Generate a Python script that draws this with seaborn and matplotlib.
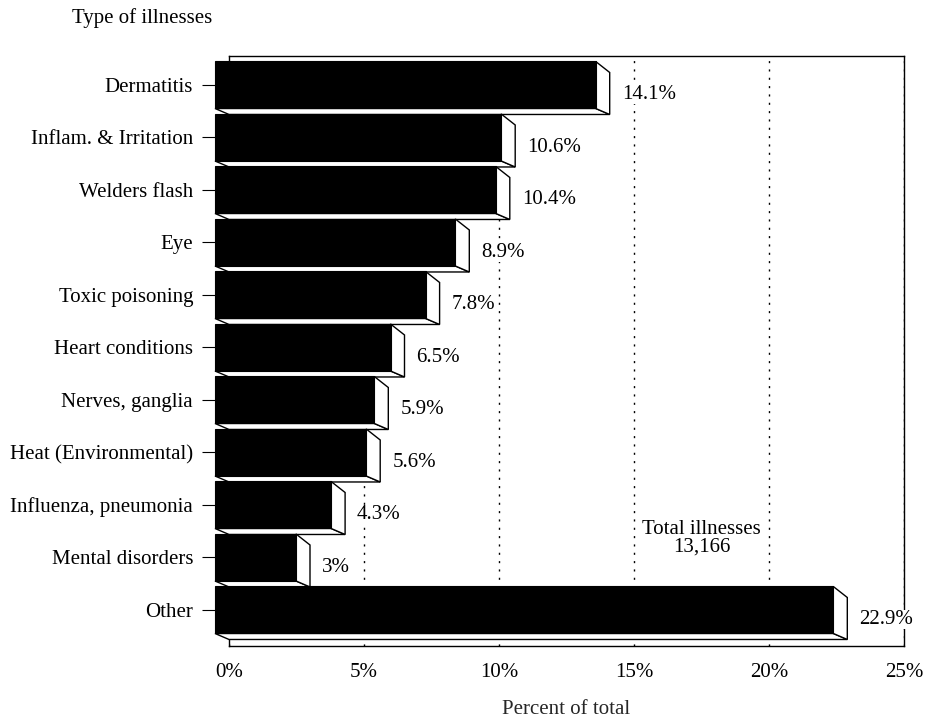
import matplotlib
matplotlib.use("Agg")
import matplotlib.pyplot as plt
import seaborn as sns
import pandas as pd
from matplotlib.patches import Polygon
from matplotlib.transforms import ScaledTranslation

# ---- data ----
categories = ["Dermatitis", "Inflam. & Irritation", "Welders flash", "Eye",
              "Toxic poisoning", "Heart conditions", "Nerves, ganglia",
              "Heat (Environmental)", "Influenza, pneumonia",
              "Mental disorders", "Other"]
values = [14.1, 10.6, 10.4, 8.9, 7.8, 6.5, 5.9, 5.6, 4.3, 3.0, 22.9]
value_labels = ["14.1%", "10.6%", "10.4%", "8.9%", "7.8%", "6.5%", "5.9%",
                "5.6%", "4.3%", "3%", "22.9%"]
xticks = [0, 5, 10, 15, 20, 25]
xtick_labels = ["0%", "5%", "10%", "15%", "20%", "25%"]
note_text = "Total illnesses\n13,166"
ylabel_text = "Type of illnesses"
xlabel_text = "Percent of total"

# ---- style ----
sns.set_style("white")
plt.rcParams["font.family"] = ["Liberation Serif", "DejaVu Serif"]
plt.rcParams["font.size"] = 15

W, H = 929, 719
fig = plt.figure(figsize=(W / 100, H / 100), dpi=100)
ax = fig.add_axes([229 / W, (H - 646) / H, 675 / W, 590 / H])

df = pd.DataFrame({"category": categories, "value": values})
sns.barplot(data=df, x="value", y="category", orient="h", color="black",
            saturation=1, width=0.895, ax=ax)

ax.set_xlim(0, 25)
ax.set_ylim(10.686, -0.552)
ax.set_xticks(xticks, xtick_labels)
ax.set_ylabel("")
ax.set_xlabel(xlabel_text, labelpad=13)

for sp in ax.spines.values():
    sp.set_visible(True)
    sp.set_color("black")
    sp.set_linewidth(1.0)

ax.tick_params(axis="y", left=True, length=19.4, width=0.8, pad=6.5,
               color="black", labelcolor="black", labelsize=15)
ax.tick_params(axis="x", bottom=False, length=0, pad=12.5,
               labelcolor="black", labelsize=15)
ax.xaxis.grid(True, color="black", linestyle=(0, (1.5, 4.5)), linewidth=1.0)
ax.yaxis.grid(False)
ax.set_axisbelow(True)

# ---- 3D faces ----
DEPTH, TOP_DROP, BOT_DROP = 14, 11, 6  # pixels
inv = ax.transData.inverted()


def off(x, y, dx, dy):
    px, py = ax.transData.transform((x, y))
    return tuple(inv.transform((px + dx, py + dy)))


shift = ScaledTranslation(-DEPTH / fig.dpi, 0, fig.dpi_scale_trans)
for i, (patch, v, lab) in enumerate(zip(ax.patches, values, value_labels)):
    top = patch.get_y()
    bot = top + patch.get_height()
    patch.set_transform(ax.transData + shift)
    patch.set_clip_on(False)
    patch.set_edgecolor("black")
    patch.set_linewidth(0.8)
    patch.set_zorder(4 + 2 * i)

    A = off(v, top, -DEPTH, 0)
    B = off(v, top, 0, -TOP_DROP)
    C = off(v, bot, 0, -BOT_DROP)
    D = off(v, bot, -DEPTH, 0)
    E = off(0, bot, 0, -BOT_DROP)
    F = off(0, bot, -DEPTH, 0)
    ax.add_patch(Polygon([F, E, C, D], closed=True, fc="white", ec="black",
                         lw=1.0, zorder=3 + 2 * i, clip_on=False))
    ax.add_patch(Polygon([A, B, C, D], closed=True, fc="white", ec="black",
                         lw=1.0, zorder=3 + 2 * i, clip_on=False))
    lx, ly = off(v, (top + bot) / 2, 12, -10)
    ax.text(lx, ly, lab, ha="left", va="center", fontsize=15, color="black",
            zorder=30,
            bbox=dict(boxstyle="square,pad=0.0", fc="white", ec="none"))

ax.text(17.5, 8.64, note_text, ha="center", va="center", fontsize=15,
        linespacing=0.92, color="black", zorder=30)

fig.text(72 / W, 1 - 18 / H, ylabel_text, ha="left", va="center",
         fontsize=15, color="black")

fig.savefig("out.png", dpi=100)
